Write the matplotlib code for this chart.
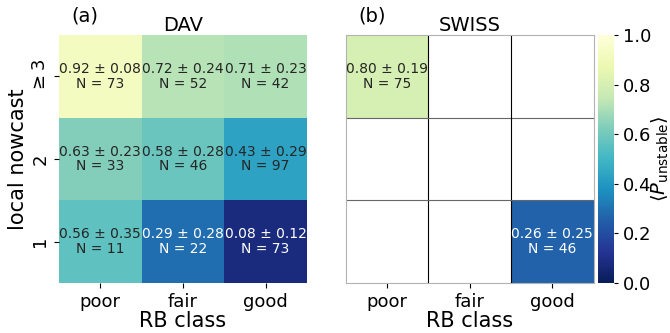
import numpy as np
import matplotlib
matplotlib.use("Agg")
import matplotlib.pyplot as plt
import matplotlib.colors as mcolors

rb_classes = ["poor", "fair", "good"]
nowcast_levels = [r"$\geq$3", "2", "1"]

# rows: nowcast >=3, 2, 1 ; columns: poor, fair, good
dav_mean = np.array([[0.92, 0.72, 0.71],
                     [0.63, 0.58, 0.43],
                     [0.56, 0.29, 0.08]])
dav_std = np.array([[0.08, 0.24, 0.23],
                    [0.23, 0.28, 0.29],
                    [0.35, 0.28, 0.12]])
dav_n = np.array([[73, 52, 42],
                  [33, 46, 97],
                  [11, 22, 73]])

swiss_mean = np.array([[0.80, np.nan, np.nan],
                       [np.nan, np.nan, np.nan],
                       [np.nan, np.nan, 0.26]])
swiss_std = np.array([[0.19, np.nan, np.nan],
                      [np.nan, np.nan, np.nan],
                      [np.nan, np.nan, 0.25]])
swiss_n = np.array([[75, 0, 0],
                    [0, 0, 0],
                    [0, 0, 46]])

cmap = plt.get_cmap("YlGnBu_r")
norm = mcolors.Normalize(vmin=0.0, vmax=1.0)


def draw_panel(ax, mean, std, n, title, tag, fs_annot):
    ax.pcolormesh(np.ma.masked_invalid(mean), cmap=cmap, norm=norm)
    ax.set_xlim(0, 3)
    ax.set_ylim(3, 0)
    for i in range(3):
        for j in range(3):
            if np.isnan(mean[i, j]):
                continue
            r, g, b, _ = cmap(norm(mean[i, j]))
            lum = 0.2126 * r + 0.7152 * g + 0.0722 * b
            col = "#262626" if lum > 0.408 else "white"
            ax.text(j + 0.5, i + 0.5,
                    f"{mean[i, j]:.2f} \u00b1 {std[i, j]:.2f}\nN = {n[i, j]}",
                    ha="center", va="center", fontsize=fs_annot, color=col,
                    linespacing=1.05)
    ax.set_xticks(np.arange(3) + 0.5)
    ax.set_xticklabels(rb_classes, fontsize=13)
    ax.set_xlabel("RB class", fontsize=15, labelpad=0)
    ax.set_title(title, fontsize=14, pad=3)
    ax.text(0.05, 1.04, tag, transform=ax.transAxes, fontsize=14,
            ha="left", va="bottom")


fig = plt.figure(figsize=(6.7, 3.33), dpi=100)
ax_a = fig.add_axes([0.088, 0.150, 0.370, 0.745])
ax_b = fig.add_axes([0.516, 0.150, 0.370, 0.745])
cax = fig.add_axes([0.893, 0.150, 0.023, 0.745])

draw_panel(ax_a, dav_mean, dav_std, dav_n, "DAV", "(a)", 10)
ax_a.set_yticks(np.arange(3) + 0.5)
ax_a.set_yticklabels(nowcast_levels, fontsize=13, rotation=90, va="center")
ax_a.set_ylabel("local nowcast", fontsize=15, labelpad=2)
for s in ax_a.spines.values():
    s.set_visible(False)

draw_panel(ax_b, swiss_mean, swiss_std, swiss_n, "SWISS", "(b)", 10)
ax_b.set_yticks([])
for k in (1, 2):
    ax_b.axvline(k, color="k", lw=0.8)
    ax_b.axhline(k, color="0.4", lw=0.8)
for s in ax_b.spines.values():
    s.set_color("0.7")
    s.set_linewidth(0.8)

sm = plt.cm.ScalarMappable(norm=norm, cmap=cmap)
cb = fig.colorbar(sm, cax=cax)
cb.outline.set_visible(False)
cb.set_ticks([0.0, 0.2, 0.4, 0.6, 0.8, 1.0])
cb.ax.tick_params(labelsize=13, length=3)
cb.set_label(r"$\langle P_{\mathrm{unstable}} \rangle$", fontsize=14, labelpad=-1)

fig.savefig("out.png", dpi=100)
